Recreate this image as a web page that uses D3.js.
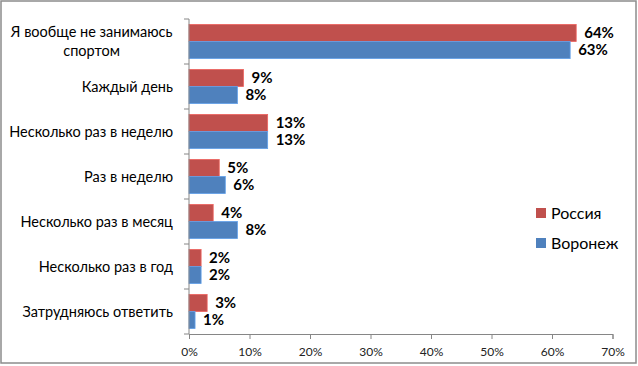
<!DOCTYPE html>
<html>
<head>
<meta charset="utf-8">
<script src="https://cdn.jsdelivr.net/npm/d3@7"></script>
<style>
    body { margin: 0; background: #fff; }
    svg { display: block; font-family: Lato, 'Open Sans', sans-serif; }
</style>
</head>
<body>
<svg id="chart"></svg>
<script>
// categories, top to bottom
const categories = [
    'Я вообще не занимаюсь спортом',
    'Каждый день',
    'Несколько раз в неделю',
    'Раз в неделю',
    'Несколько раз в месяц',
    'Несколько раз в год',
    'Затрудняюсь ответить',
];
// category labels split into lines
const categoryLines = [
    ['Я вообще не занимаюсь', 'спортом'],
    ['Каждый день'],
    ['Несколько раз в неделю'],
    ['Раз в неделю'],
    ['Несколько раз в месяц'],
    ['Несколько раз в год'],
    ['Затрудняюсь ответить'],
];
const seriesNames = ['Россия', 'Воронеж'];
const russia = [64, 9, 13, 5, 4, 2, 3];
const voronezh = [63, 8, 13, 6, 8, 2, 1];
const xTicks = [0, 10, 20, 30, 40, 50, 60, 70];
const seriesColors = ['#C0504D', '#4F81BD'];

const width = 638;
const height = 366;
const margin = { top: 19, right: 26, bottom: 32, left: 189 };
const innerW = 612.5 - margin.left;
const innerH = 334 - margin.top;

const svg = d3.select('#chart')
    .attr('width', width)
    .attr('height', height);

// outer chart frame
svg.append('rect')
    .attr('x', 1)
    .attr('y', 1)
    .attr('width', width - 3)
    .attr('height', height - 4)
    .attr('fill', '#fff')
    .attr('stroke', '#8c8c8c')
    .attr('stroke-width', 1.5);

const g = svg.append('g')
    .attr('transform', `translate(${margin.left},${margin.top})`);

const x = d3.scaleLinear().domain([0, 70]).range([0, innerW]);
const y = d3.scaleBand()
    .domain(categories)
    .range([0, innerH])
    .paddingInner(0.24)
    .paddingOuter(0.12);
const sub = d3.scaleBand()
    .domain(seriesNames)
    .range([0, y.bandwidth()]);

const rows = categories.map((c, i) => ({
    cat: c,
    values: [russia[i], voronezh[i]],
}));

const group = g.selectAll('.row')
    .data(rows)
    .join('g')
    .attr('class', 'row')
    .attr('transform', d => `translate(0,${y(d.cat)})`);

group.selectAll('rect')
    .data(d => d.values.map((v, j) => ({ v, s: seriesNames[j], j })))
    .join('rect')
    .attr('x', 0)
    .attr('y', d => sub(d.s))
    .attr('width', d => x(d.v))
    .attr('height', sub.bandwidth())
    .attr('fill', d => seriesColors[d.j])
    .attr('stroke', d => d3.color(seriesColors[d.j]).brighter(0.6))
    .attr('stroke-width', 0.8);

group.selectAll('text.val')
    .data(d => d.values.map((v, j) => ({ v, s: seriesNames[j] })))
    .join('text')
    .attr('class', 'val')
    .attr('x', d => x(d.v) + 8)
    .attr('y', d => sub(d.s) + sub.bandwidth() / 2)
    .attr('dy', '0.35em')
    .attr('font-size', 15)
    .attr('font-weight', 'bold')
    .attr('fill', '#000')
    .text(d => d.v + '%');

// x axis
const xAxis = g.append('g')
    .attr('transform', `translate(0,${innerH})`)
    .call(d3.axisBottom(x).tickValues(xTicks).tickSize(5).tickFormat(d => d + '%'));
xAxis.selectAll('path, line').attr('stroke', '#868686');
xAxis.selectAll('text')
    .attr('font-family', 'Lato, sans-serif')
    .attr('font-size', 12)
    .attr('fill', '#222')
    .attr('dy', '1.15em');

// y axis: ticks at band boundaries
const bounds = d3.range(categories.length + 1).map(i => i * y.step());
const yAxis = g.append('g');
yAxis.append('line')
    .attr('x1', 0).attr('x2', 0)
    .attr('y1', 0).attr('y2', innerH)
    .attr('stroke', '#868686');
yAxis.selectAll('line.tick')
    .data(bounds)
    .join('line')
    .attr('class', 'tick')
    .attr('x1', -5).attr('x2', 0)
    .attr('y1', d => d).attr('y2', d => d)
    .attr('stroke', '#868686');

const catText = yAxis.selectAll('text.cat')
    .data(categoryLines)
    .join('text')
    .attr('class', 'cat')
    .attr('font-size', 14.5)
    .attr('fill', '#000')
    .attr('text-anchor', 'middle');

catText.each(function (lines, i) {
    const t = d3.select(this);
    const cy = y(categories[i]) + y.bandwidth() / 2;
    const lh = 18.5;
    const y0 = cy - (lines.length - 1) * lh / 2;
    lines.forEach((ln, k) => {
        t.append('tspan')
            .attr('x', 0)
            .attr('y', y0 + k * lh)
            .attr('dy', '0.35em')
            .text(ln);
    });
});
// right-align the block of each label against the axis, lines centred
catText.each(function () {
    const t = d3.select(this);
    const w = this.getBBox().width;
    t.selectAll('tspan').attr('x', -16 - w / 2);
});

// legend
const legend = svg.append('g')
    .attr('transform', 'translate(536,208)');
const li = legend.selectAll('g')
    .data(seriesNames)
    .join('g')
    .attr('transform', (d, i) => `translate(0,${i * 30})`);
li.append('rect')
    .attr('width', 10)
    .attr('height', 10)
    .attr('fill', (d, i) => seriesColors[i]);
li.append('text')
    .attr('x', 15)
    .attr('y', 5)
    .attr('dy', '0.35em')
    .attr('font-size', 16)
    .attr('fill', '#000')
    .text(d => d);
</script>
</body>
</html>
